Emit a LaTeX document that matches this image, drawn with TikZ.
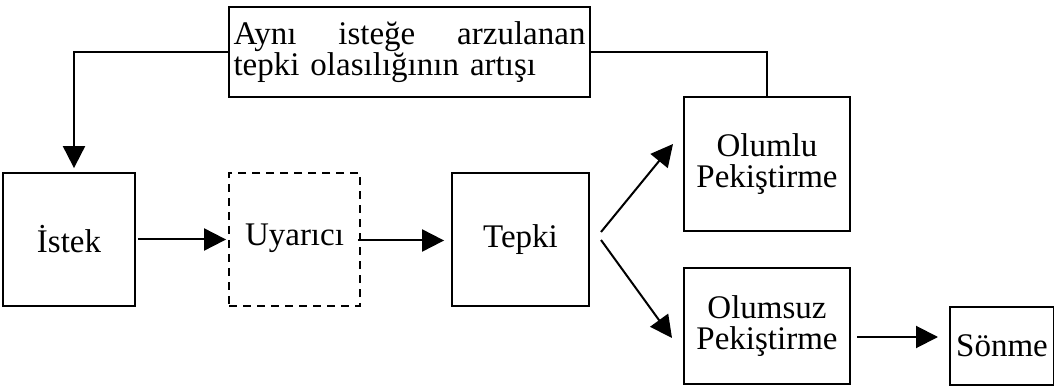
\documentclass[tikz,border=0pt]{standalone}
\usepackage{fontspec}
\setmainfont{Liberation Serif}
\usetikzlibrary{arrows.meta}
\begin{document}
\begin{tikzpicture}[x=1pt,y=-1pt,
  every node/.style={font=\fontsize{33}{31}\selectfont},
  box/.style={draw,line width=1.8pt,inner sep=0pt,align=center},
  dbox/.style={box,dash pattern=on 8pt off 6pt},
  conn/.style={line width=2pt},
  arr/.style={conn,-{Triangle[length=22pt,width=22pt]}}]
\useasboundingbox (0,0) rectangle (1054,387);
% boxes
\node[box,minimum width=361pt,minimum height=90pt,text width=352pt,align=left]
  (top) at (409.5,52) {Aynı\hfill isteğe\hfill arzulanan\\tepki olasılığının artışı};
\node[box,minimum width=132pt,minimum height=133pt] (istek) at (69,239.5) {İstek};
\node[dbox,minimum width=131pt,minimum height=133pt] (uyarici) at (294.5,239.5) {\raisebox{9pt}{Uyarıcı}};
\node[box,minimum width=137pt,minimum height=133pt] (tepki) at (520.5,239.5) {Tepki};
\node[box,minimum width=166pt,minimum height=134pt] (olumlu) at (767,164) {Olumlu\\Pekiştirme};
\node[box,minimum width=166pt,minimum height=116pt] (olumsuz) at (767,326) {Olumsuz\\Pekiştirme};
\node[box,minimum width=104pt,minimum height=78pt] (sonme) at (1002,346) {Sönme};
% connector end points
\coordinate (fork1) at (601,232);
\coordinate (fork2) at (601,240);
\coordinate (tipA) at (673,144);
\coordinate (tipB) at (672,338);
\coordinate (exA) at (857,337);
\coordinate (exB) at (938,337);
% connectors
\draw[arr,shorten >=4pt] (top.west) -| ([xshift=5pt]istek.north);
\draw[conn] (top.east) -| (olumlu.north);
\draw[arr] ([xshift=2pt]istek.east) -- ([xshift=-2pt]uyarici.west);
\draw[arr] ([xshift=-3pt,yshift=-1pt]uyarici.east) -- ([xshift=-7pt,yshift=-1pt]tepki.west);
\draw[arr] (fork1) -- (tipA);
\draw[arr] (fork2) -- (tipB);
\draw[arr] (exA) -- (exB);
\end{tikzpicture}
\end{document}
